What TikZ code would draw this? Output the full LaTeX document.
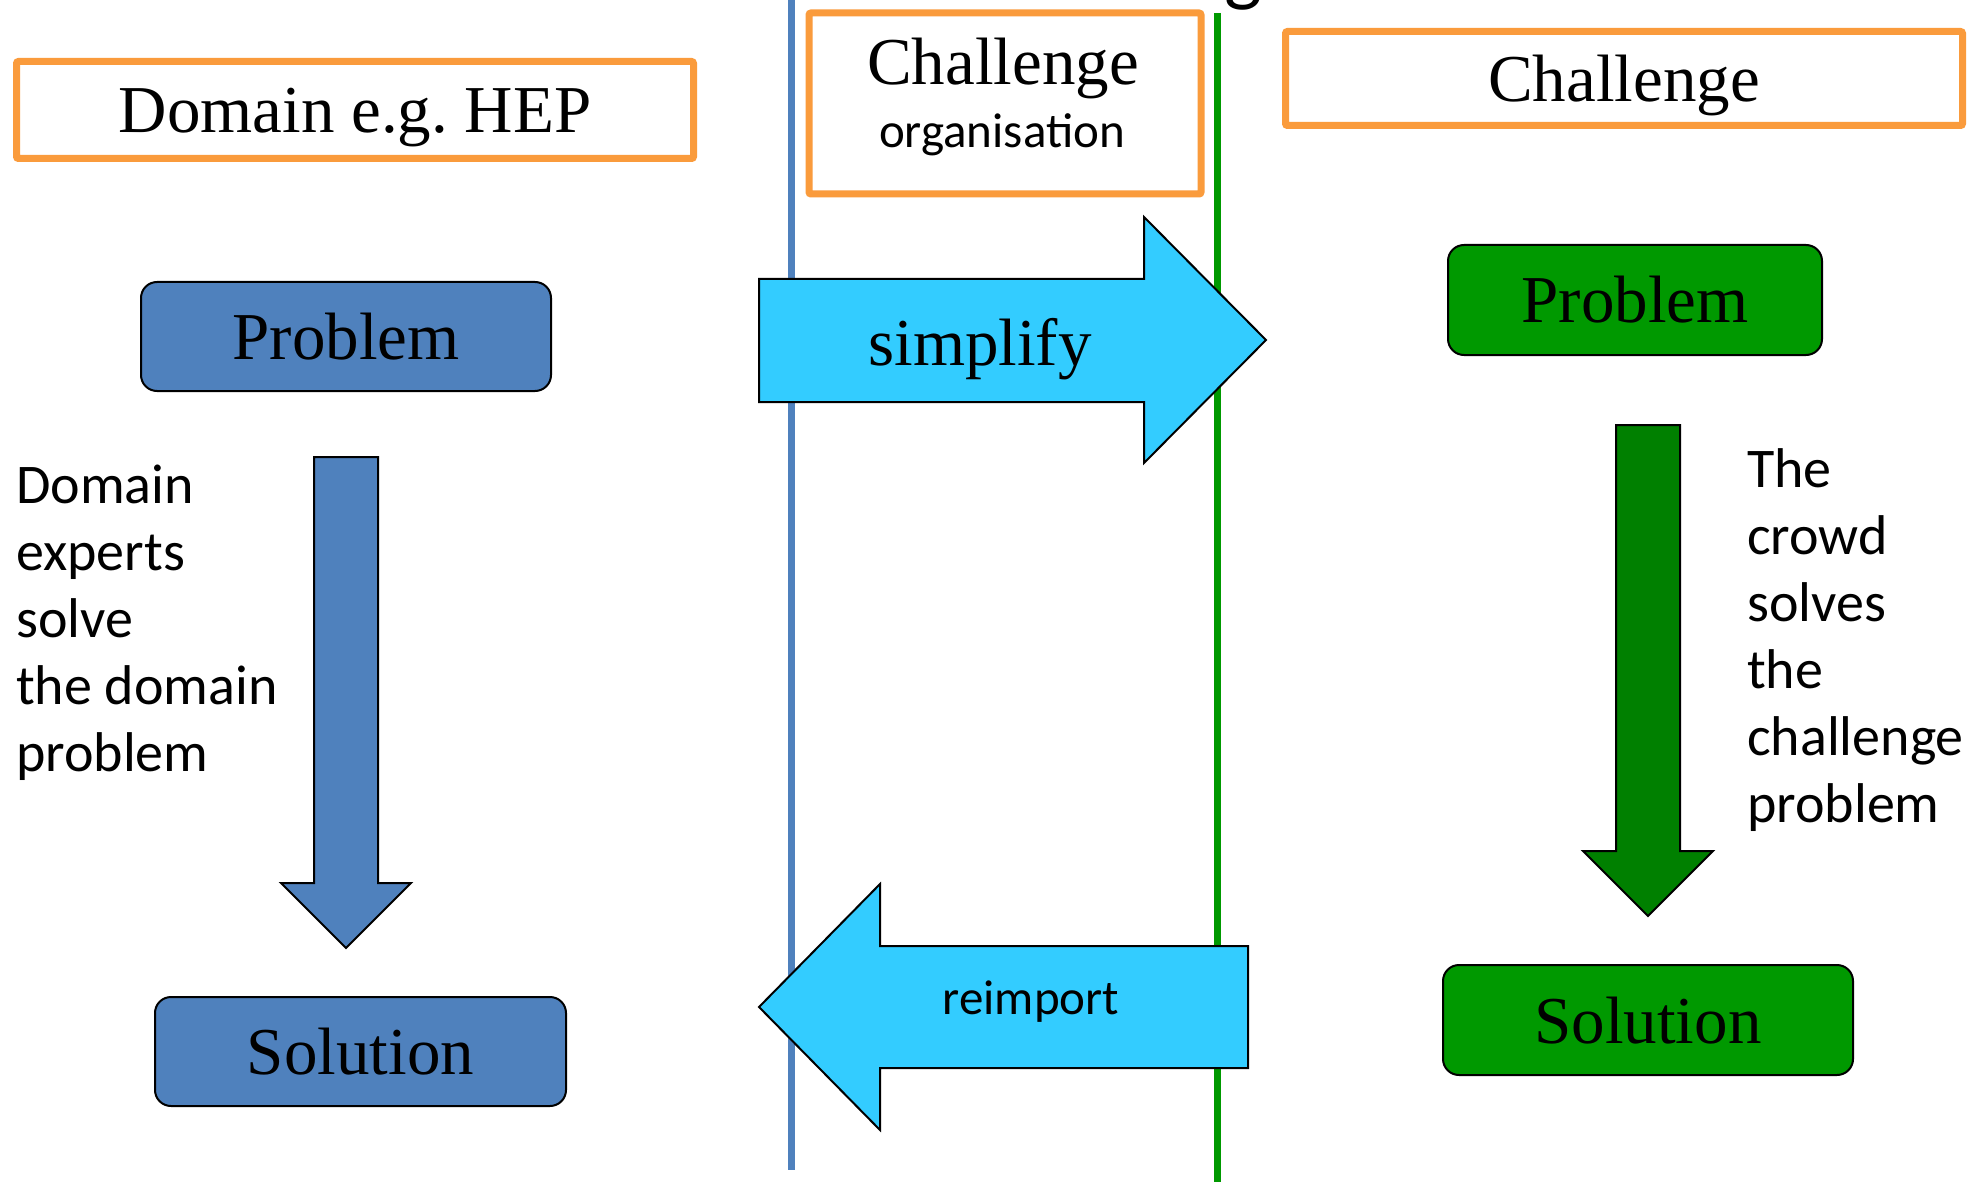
\documentclass[tikz,border=0pt]{standalone}
\usepackage{fontspec}
\setmainfont{Liberation Serif}
\newfontfamily\calfont{Carlito}
\definecolor{orangeC}{RGB}{250,155,60}
\definecolor{blueC}{RGB}{79,129,189}
\definecolor{greenBox}{RGB}{0,153,0}
\definecolor{greenArr}{RGB}{0,128,0}
\definecolor{cyanC}{RGB}{51,204,255}
\definecolor{greenLine}{RGB}{0,153,0}
\frenchspacing
\begin{document}
\begin{tikzpicture}[x=1pt,y=-1pt,
  serifbig/.style={font=\fontsize{67}{80}\selectfont},
  calbig/.style={font=\calfont\fontsize{56}{67}\selectfont},
  calmid/.style={font=\calfont\fontsize{49}{60}\selectfont},
  headbox/.style={draw=orangeC, line width=7pt, rounded corners=2pt, fill=white, inner sep=0pt, text height=46pt, text depth=0pt, serifbig},
  stepbox/.style={draw=black, line width=2pt, rounded corners=16pt, inner sep=0pt, text height=46pt, text depth=0pt, serifbig},
  blockarrow/.style={draw=black, line width=2pt, line join=miter},
  vline/.style={line width=7pt},
]
\useasboundingbox (0,0) rectangle (1984,1182);
\fill[white] (0,0) rectangle (1984,1182);

% partial title letter cut off at the top
\begin{scope}
  \clip (0,0) rectangle (1984,1182);
  \node[font=\calfont\fontsize{80}{80}\selectfont, anchor=south, inner sep=0pt] (gpart) at (1243,10) {g};
\end{scope}

% vertical separators
\coordinate (bt) at (791,0);
\coordinate (bb) at (791,1170);
\coordinate (gt) at (1217,13);
\coordinate (gb) at (1217,1182);
\draw[vline, draw=blueC] (bt) -- (bb);
\draw[vline, draw=greenLine] (gt) -- (gb);

% header boxes
\node[headbox, minimum width=677pt, minimum height=97pt] (domain) at (355,110) {Domain e.g. HEP};
\node[headbox, minimum width=392pt, minimum height=181pt] (org) at (1005,103.5) {};
\node[serifbig, anchor=base, inner sep=0pt] (orgt1) at (1003,85) {Challenge};
\node[calmid, anchor=base, inner sep=0pt] (orgt2) at (1002,148) {organisation};
\node[headbox, minimum width=677pt, minimum height=94pt] (chal) at (1624,78.5) {Challenge};

% left column
\node[stepbox, fill=blueC, minimum width=410pt, minimum height=109pt] (bprob) at (346,336.5) {Problem};
\node[stepbox, fill=blueC, minimum width=411pt, minimum height=109pt] (bsol) at (360.5,1051.5) {Solution};
\draw[blockarrow, fill=blueC] (314,457) -- (378,457) -- (378,883) -- (411,883) -- (346,948) -- (281,883) -- (314,883) -- cycle;
\foreach \t [count=\i from 0] in {Domain,experts,solve,the domain,problem}
  \node[calbig, anchor=base west, inner sep=0pt] (dom\i) at (16,{503+67*\i}) {\t};

% right column
\node[stepbox, fill=greenBox, minimum width=374pt, minimum height=110pt] (gprob) at (1635,300) {Problem};
\node[stepbox, fill=greenBox, minimum width=410pt, minimum height=110pt] (gsol) at (1648,1020) {Solution};
\draw[blockarrow, fill=greenArr] (1616,425) -- (1680,425) -- (1680,851) -- (1713,851) -- (1648,916) -- (1583,851) -- (1616,851) -- cycle;
\foreach \t [count=\i from 0] in {The,crowd,solves,the,challenge,problem}
  \node[calbig, anchor=base west, inner sep=0pt] (crowd\i) at (1747,{487+67*\i}) {\t};

% middle block arrows
\draw[blockarrow, fill=cyanC] (759,279) -- (1144,279) -- (1144,217) -- (1266,340) -- (1144,463) -- (1144,402) -- (759,402) -- cycle;
\node[serifbig, anchor=base, inner sep=0pt] (simp) at (980,365) {simplify};
\draw[blockarrow, fill=cyanC] (1248,946) -- (880,946) -- (880,884) -- (759,1007) -- (880,1130) -- (880,1068) -- (1248,1068) -- cycle;
\node[calmid, anchor=base, inner sep=0pt] (reimp) at (1031,1014) {reimport};
\end{tikzpicture}
\end{document}
